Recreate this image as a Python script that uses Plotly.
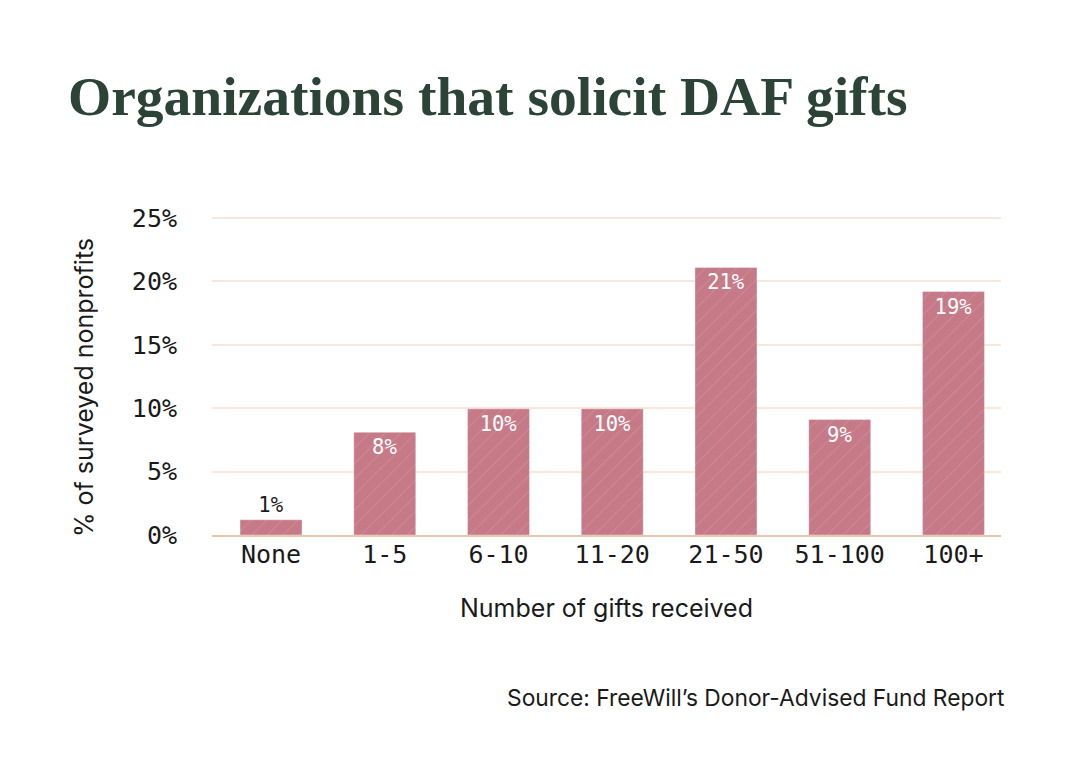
import plotly.graph_objects as go

categories = ["None", "1-5", "6-10", "11-20", "21-50", "51-100", "100+"]
values = [1.2, 8.1, 9.95, 9.95, 21.1, 9.1, 19.2]
labels = ["1%", "8%", "10%", "10%", "21%", "9%", "19%"]
tick_vals = [0, 5, 10, 15, 20, 25]
tick_text = ["0%", "5%", "10%", "15%", "20%", "25%"]

MONO = "DejaVu Sans Mono"
SANS = "Inter, Roboto, sans-serif"

positions = ["outside" if v < 3 else "inside" for v in values]
text_colors = ["#1a1a1a" if p == "outside" else "white" for p in positions]

fig = go.Figure(go.Bar(
    x=categories, y=values, text=labels,
    textposition=positions,
    insidetextanchor="end",
    textfont=dict(family=MONO, size=20.5, color=text_colors),
    cliponaxis=False,
    marker=dict(
        color="#C67A88",
        line=dict(color="rgba(255,255,255,0.35)", width=1),
        pattern=dict(shape="/", fgcolor="white", fgopacity=0.18, size=11, solidity=0.08),
    ),
    width=0.545,
))

# plot area: x 212..1001, y 217..535
fig.update_layout(
    width=1080, height=780,
    paper_bgcolor="white", plot_bgcolor="white",
    margin=dict(l=212, r=79, t=217, b=245),
    showlegend=False,
    title=dict(text="Organizations that solicit DAF gifts", x=68/1080, xanchor="left",
               y=1-96/780, yanchor="middle",
               font=dict(family="Liberation Serif", size=55.5, color="#2B4437", weight="bold")),
    xaxis=dict(tickfont=dict(family=MONO, size=25, color="#1a1a1a"), showgrid=False,
               range=[-0.519, 6.418], ticklabelstandoff=-4,
               showline=True, linecolor="#E9C7AC", linewidth=2, ticks=""),
    yaxis=dict(range=[0, 25.08], tickvals=tick_vals, ticktext=tick_text,
               tickfont=dict(family=MONO, size=25, color="#1a1a1a"),
               gridcolor="#F6E8DD", gridwidth=1.5, zeroline=False, ticks="",
               ticklabelstandoff=34),
    annotations=[
        dict(text="Number of gifts received", xref="paper", yref="paper",
             x=0.5, xanchor="center", y=-(608-535)/318, yanchor="middle",
             showarrow=False, font=dict(family=SANS, size=25, color="#1a1a1a")),
        dict(text="% of surveyed nonprofits", xref="paper", yref="paper",
             x=-(212-84)/789, xanchor="center", y=(535-388)/318, yanchor="middle",
             textangle=-90, showarrow=False, font=dict(family=SANS, size=25, color="#1a1a1a")),
        dict(text="Source: FreeWill’s Donor-Advised Fund Report", xref="paper", yref="paper",
             x=(1007-212)/789, xanchor="right", y=-(697-535)/318, yanchor="middle",
             showarrow=False, font=dict(family=SANS, size=22.8, color="#1a1a1a")),
    ],
)

fig.write_html("out.html")
